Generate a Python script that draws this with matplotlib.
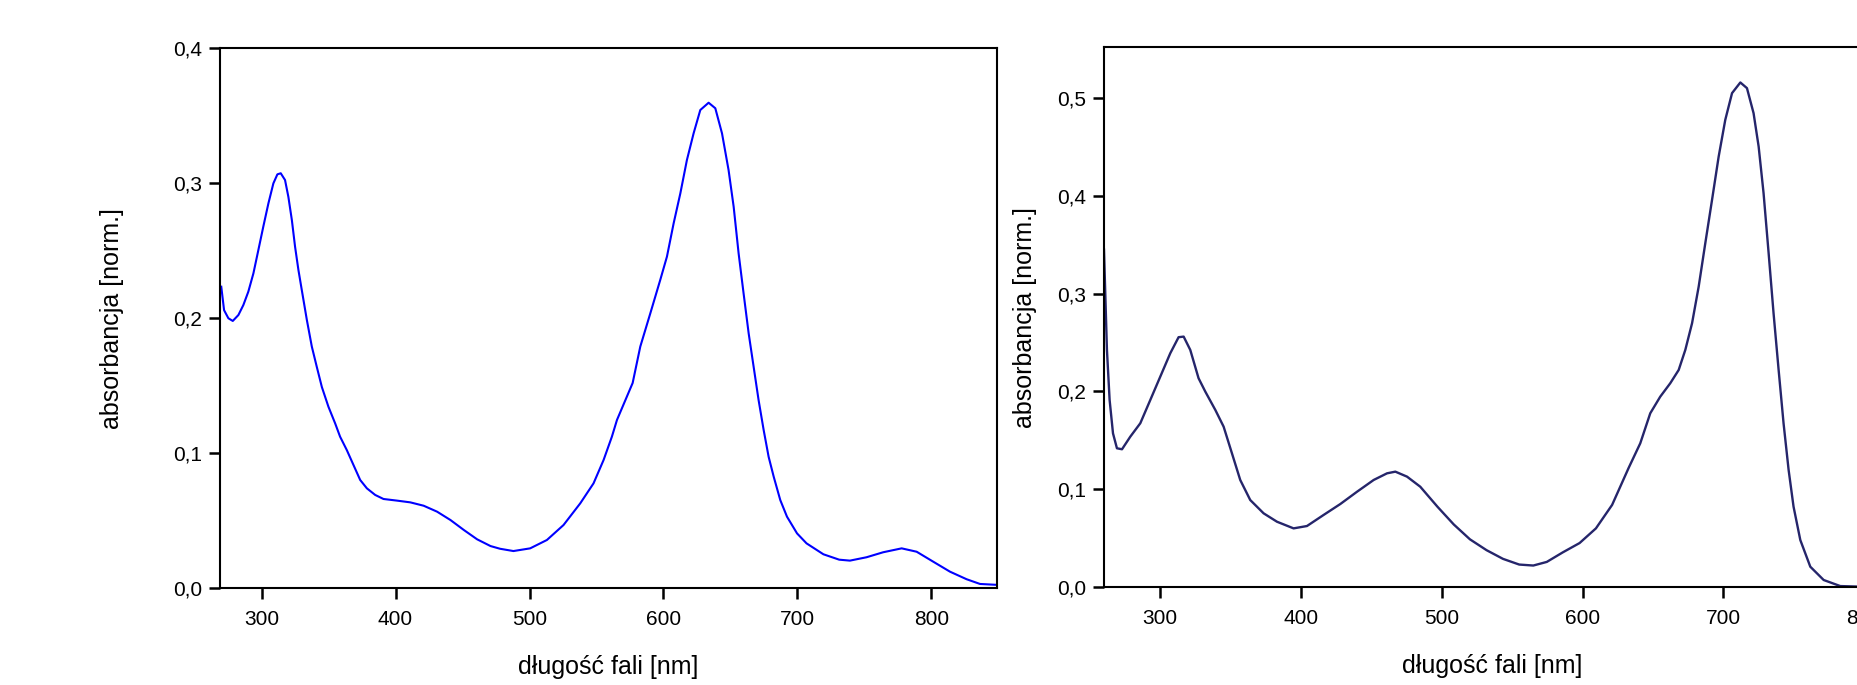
import numpy as np
import matplotlib.pyplot as plt
from matplotlib.ticker import FuncFormatter, MultipleLocator

plt.rcParams['font.family'] = ['Liberation Sans', 'DejaVu Sans']

# Left spectrum (blue)
wl_a = [269.9, 272, 275.2, 278.5, 282.7, 286.4, 290.1, 293.9, 297.6, 301.3, 305.1,
        308.8, 311.8, 314.3, 317.5, 320, 322.6, 325, 327.5, 330, 333.8, 337.5,
        341.2, 345, 349.9, 354.9, 358.6, 363.6, 368.6, 373.6, 378.6, 384.8, 391,
        401, 411, 421, 431, 441, 451, 460.9, 470.9, 478, 488, 500.5, 513, 525.4,
        537.9, 547.8, 555.3, 561.5, 565.3, 577, 582.7, 590.2, 597.6, 602.6, 607.6,
        612.6, 617.5, 622.5, 627.5, 633.7, 638.7, 643.7, 648.6, 652.4, 656.1,
        659.8, 663.6, 667.3, 671, 674.8, 678.5, 682.3, 687.2, 692.2, 699.7, 706.8,
        719.4, 731.2, 739.2, 751.6, 764, 777.8, 789, 801.4, 813.9, 826.3, 836.3,
        849.6]
ab_a = [0.2234, 0.206, 0.200, 0.198, 0.2024, 0.2098, 0.2197, 0.2333, 0.2506, 0.268,
        0.2852, 0.300, 0.3067, 0.3075, 0.3025, 0.290, 0.2728, 0.253, 0.2358, 0.221,
        0.1987, 0.179, 0.164, 0.149, 0.1344, 0.1221, 0.1122, 0.1023, 0.0912, 0.0801,
        0.0739, 0.069, 0.066, 0.0648, 0.0635, 0.061, 0.0566, 0.0504, 0.043, 0.0361,
        0.0311, 0.0291, 0.0274, 0.0294, 0.0356, 0.0467, 0.0628, 0.0776, 0.0949,
        0.1122, 0.1246, 0.152, 0.179, 0.2037, 0.2284, 0.2457, 0.2704, 0.2926,
        0.3173, 0.3371, 0.3544, 0.3598, 0.3557, 0.3371, 0.3099, 0.2827, 0.2481,
        0.2185, 0.1888, 0.1641, 0.1394, 0.1171, 0.0973, 0.0825, 0.0652, 0.0529,
        0.0405, 0.0331, 0.025, 0.021, 0.0203, 0.0228, 0.0265, 0.0294, 0.0269,
        0.0195, 0.0121, 0.0065, 0.003, 0.0023]

# Right spectrum (navy)
wl_b = [260, 262.1, 264, 266.4, 269.2, 272.8, 278.7, 285.8, 292.9, 300, 307.1, 313,
        316.6, 321.3, 327.2, 332, 339.1, 345, 350.9, 356.8, 363.9, 373.4, 382.9,
        394.7, 404.2, 416, 427.9, 439.8, 451.6, 461.1, 467, 475.3, 484.7, 491.8,
        497, 508.5, 520, 531.8, 543.5, 555, 565, 574.6, 586, 597.9, 609.5, 621,
        632.8, 641, 648.1, 655.2, 662.3, 668.3, 673, 677.8, 682.5, 687.2, 692,
        696.7, 701.4, 706.2, 712.1, 716.8, 721.5, 725.1, 728.6, 732.2, 735.7,
        739.3, 742.8, 746.4, 749.9, 754.7, 761.8, 771.3, 783.1, 795, 812]
ab_b = [0.345, 0.2425, 0.1913, 0.1572, 0.1419, 0.1409, 0.1538, 0.1675, 0.1913,
        0.2152, 0.2391, 0.2555, 0.2561, 0.2425, 0.2135, 0.1998, 0.1811, 0.164,
        0.1368, 0.1095, 0.089, 0.0754, 0.0668, 0.060, 0.0624, 0.0737, 0.0849,
        0.0975, 0.1095, 0.1163, 0.118, 0.1129, 0.1026, 0.0907, 0.082, 0.064,
        0.0488, 0.0377, 0.0288, 0.023, 0.022, 0.0257, 0.0355, 0.045, 0.060, 0.084,
        0.122, 0.147, 0.1777, 0.1947, 0.2084, 0.222, 0.2425, 0.2698, 0.3072,
        0.3516, 0.396, 0.4402, 0.4778, 0.5051, 0.516, 0.5102, 0.4846, 0.4505,
        0.4028, 0.3414, 0.280, 0.222, 0.1675, 0.1197, 0.0822, 0.0481, 0.0208,
        0.0072, 0.001, 0.0005, 0.0003]

xlabel = "długość fali [nm]"
ylabel = "absorbancja [norm.]"

fig = plt.figure(figsize=(18.57, 6.85), dpi=100)
ax1 = fig.add_axes([0.1185, 0.1416, 0.4184, 0.7876])
ax2 = fig.add_axes([0.5945, 0.1430, 0.4184, 0.7880])

comma = FuncFormatter(lambda v, p: f"{v:.1f}".replace(".", ","))


def style(ax, ylabx):
    for s in ax.spines.values():
        s.set_linewidth(1.5)
    ax.tick_params(axis='both', direction='out', length=8, width=1.8, labelsize=15)
    ax.tick_params(axis='y', pad=5)
    ax.tick_params(axis='x', pad=8)
    ax.xaxis.set_major_locator(MultipleLocator(100))
    ax.yaxis.set_major_locator(MultipleLocator(0.1))
    ax.yaxis.set_major_formatter(comma)
    ax.set_xlabel(xlabel, fontsize=18, va='center')
    ax.set_ylabel(ylabel, fontsize=18, va='center')
    ax.xaxis.set_label_coords(0.5, -0.146)
    ax.yaxis.set_label_coords(ylabx, 0.5)


ax1.plot(wl_a, ab_a, color='#0000ff', lw=1.5)
ax1.set_xlim(269, 849)
ax1.set_ylim(0, 0.4)
style(ax1, -0.139)

ax2.plot(wl_b, ab_b, color='#25256b', lw=1.7)
ax2.set_xlim(260, 812)
ax2.set_ylim(0, 0.552)
style(ax2, -0.1017)

fig.savefig("out.png", dpi=100)
